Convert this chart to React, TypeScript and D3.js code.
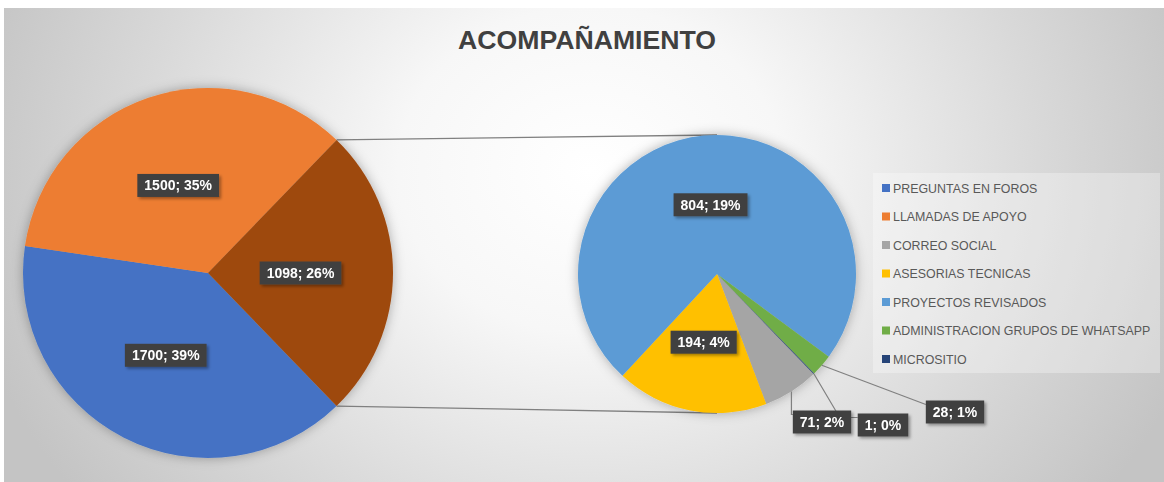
import React, { useEffect, useRef } from "react";
import * as d3 from "d3";

// ---- data ----
const chartTitle = "ACOMPAÑAMIENTO";
const mainCategories = ["PREGUNTAS EN FOROS", "LLAMADAS DE APOYO"];
const mainValues = [1700, 1500];
const mainPercents = [39, 35];
const otherPercent = 26;
const secondCategories = [
  "CORREO SOCIAL",
  "ASESORIAS TECNICAS",
  "PROYECTOS REVISADOS",
  "ADMINISTRACION GRUPOS DE WHATSAPP",
  "MICROSITIO",
];
const secondValues = [71, 194, 804, 28, 1];
const secondPercents = [2, 4, 19, 1, 0];
const legendCategories = [
  "PREGUNTAS EN FOROS",
  "LLAMADAS DE APOYO",
  "CORREO SOCIAL",
  "ASESORIAS TECNICAS",
  "PROYECTOS REVISADOS",
  "ADMINISTRACION GRUPOS DE WHATSAPP",
  "MICROSITIO",
];
const categoryColors = [
  "#4472C4",
  "#ED7D31",
  "#A5A5A5",
  "#FFC000",
  "#5B9BD5",
  "#70AD47",
  "#264478",
];
const otherColor = "#9E480E";

// ---- layout ----
const W = 1164;
const H = 482;
const MAIN = { cx: 208, cy: 273, r: 185 };
const SECOND = { cx: 717, cy: 274, r: 139 };
// outside label box centres (slices too small for inside labels)
const outsideLabels: Record<string, { x: number; y: number; elbow: number }> = {
  "CORREO SOCIAL": { x: 822, y: 422, elbow: 0 },
  MICROSITIO: { x: 883, y: 425, elbow: 18 },
  "ADMINISTRACION GRUPOS DE WHATSAPP": { x: 955, y: 412, elbow: 0 },
};

const colorOf = (c: string) => categoryColors[legendCategories.indexOf(c)];
const deg = (d: number) => (d * Math.PI) / 180;

export default function App() {
  const ref = useRef<SVGSVGElement | null>(null);

  useEffect(() => {
    const svg = d3.select(ref.current);
    svg.selectAll("*").remove();

    const defs = svg.append("defs");
    const grad = defs
      .append("radialGradient")
      .attr("id", "bg")
      .attr("gradientUnits", "userSpaceOnUse")
      .attr("cx", 590)
      .attr("cy", 170)
      .attr("r", 640)
      .attr("gradientTransform", "translate(590,170) scale(1,0.85) translate(-590,-170)");
    grad.append("stop").attr("offset", 0).attr("stop-color", "#ffffff");
    grad.append("stop").attr("offset", 0.3).attr("stop-color", "#f7f7f7");
    grad.append("stop").attr("offset", 0.7).attr("stop-color", "#d9d9d9");
    grad.append("stop").attr("offset", 1).attr("stop-color", "#c4c4c4");

    const pieShadow = defs.append("filter").attr("id", "pieShadow").attr("x", "-20%").attr("y", "-20%").attr("width", "140%").attr("height", "140%");
    pieShadow
      .append("feDropShadow")
      .attr("dx", 0)
      .attr("dy", 0)
      .attr("stdDeviation", 6)
      .attr("flood-color", "#000")
      .attr("flood-opacity", 0.3);
    const lblShadow = defs.append("filter").attr("id", "lblShadow").attr("x", "-20%").attr("y", "-30%").attr("width", "150%").attr("height", "170%");
    lblShadow
      .append("feDropShadow")
      .attr("dx", 2)
      .attr("dy", 2)
      .attr("stdDeviation", 1.5)
      .attr("flood-color", "#000")
      .attr("flood-opacity", 0.35);

    // background
    svg.append("rect").attr("width", W).attr("height", H).attr("fill", "#ffffff");
    svg
      .append("rect")
      .attr("x", 4)
      .attr("y", 8)
      .attr("width", W - 4)
      .attr("height", H - 8)
      .attr("fill", "url(#bg)");

    // title
    svg
      .append("text")
      .attr("x", 587)
      .attr("y", 49)
      .attr("text-anchor", "middle")
      .attr("font-family", "'Liberation Sans', Arial, sans-serif")
      .attr("font-weight", "bold")
      .attr("font-size", 26)
      .attr("textLength", 258)
      .attr("lengthAdjust", "spacingAndGlyphs")
      .attr("fill", "#404040")
      .text(chartTitle);

    // ---- main pie ----
    const otherValue = d3.sum(secondValues);
    const mainData = [
      ...mainCategories.map((c, i) => ({ cat: c, value: mainValues[i], pct: mainPercents[i], color: colorOf(c) })),
      { cat: "OTHER", value: otherValue, pct: otherPercent, color: otherColor },
    ];
    const total = d3.sum(mainData, (d) => d.value);
    const otherAngle = (otherValue / total) * 2 * Math.PI;
    const mainStart = Math.PI / 2 + otherAngle / 2;
    const mainPie = d3
      .pie<any>()
      .sort(null)
      .value((d) => d.value)
      .startAngle(mainStart)
      .endAngle(mainStart + 2 * Math.PI);
    const mainArcs = mainPie(mainData);
    const mainArc = d3.arc<any>().innerRadius(0).outerRadius(MAIN.r);
    const labelArcMain = d3.arc<any>().innerRadius(MAIN.r * 0.5).outerRadius(MAIN.r * 0.5);

    // ---- second pie ----
    const secondData = secondCategories.map((c, i) => ({
      cat: c,
      value: secondValues[i],
      pct: secondPercents[i],
      color: colorOf(c),
    }));
    const secondStart = mainStart;
    const secondPie = d3
      .pie<any>()
      .sort(null)
      .value((d) => d.value)
      .startAngle(secondStart)
      .endAngle(secondStart + 2 * Math.PI);
    const secondArcs = secondPie(secondData);
    const secondArc = d3.arc<any>().innerRadius(0).outerRadius(SECOND.r);
    const labelArcSecond = d3.arc<any>().innerRadius(SECOND.r * 0.5).outerRadius(SECOND.r * 0.5);

    // connector lines
    const otherArc = mainArcs[mainArcs.length - 1];
    const pt = (cx: number, cy: number, r: number, a: number) => [cx + r * Math.sin(a), cy - r * Math.cos(a)];
    const topMain = pt(MAIN.cx, MAIN.cy, MAIN.r, otherArc.startAngle);
    const botMain = pt(MAIN.cx, MAIN.cy, MAIN.r, otherArc.endAngle);
    const conn = svg.append("g").attr("stroke", "#808080").attr("stroke-width", 1.3).attr("fill", "none");
    conn.append("line").attr("x1", topMain[0]).attr("y1", topMain[1]).attr("x2", SECOND.cx).attr("y2", SECOND.cy - SECOND.r);
    conn.append("line").attr("x1", botMain[0]).attr("y1", botMain[1]).attr("x2", SECOND.cx).attr("y2", SECOND.cy + SECOND.r);

    const gMain = svg.append("g").attr("transform", `translate(${MAIN.cx},${MAIN.cy})`).attr("filter", "url(#pieShadow)");
    gMain
      .selectAll("path")
      .data(mainArcs)
      .join("path")
      .attr("d", mainArc)
      .attr("fill", (d: any) => d.data.color);

    const gSecond = svg.append("g").attr("transform", `translate(${SECOND.cx},${SECOND.cy})`).attr("filter", "url(#pieShadow)");
    gSecond
      .selectAll("path")
      .data(secondArcs)
      .join("path")
      .attr("d", secondArc)
      .attr("fill", (d: any) => d.data.color);

    // leader lines for outside labels
    const leaders = svg.append("g").attr("stroke", "#808080").attr("stroke-width", 1.2).attr("fill", "none");

    const labelsLayer = svg.append("g");
    const drawLabel = (x: number, y: number, txt: string) => {
      const g = labelsLayer.append("g").attr("filter", "url(#lblShadow)");
      const rect = g.append("rect").attr("fill", "#404040");
      const t = g
        .append("text")
        .attr("x", x)
        .attr("y", y + 5)
        .attr("text-anchor", "middle")
        .attr("font-family", "'Liberation Sans', Arial, sans-serif")
        .attr("font-weight", "bold")
        .attr("font-size", 14)
        .attr("fill", "#ffffff")
        .text(txt);
      const w = (t.node() as SVGTextElement).getComputedTextLength() + 14;
      const h = 23;
      rect.attr("x", x - w / 2).attr("y", y - h / 2).attr("width", w).attr("height", h);
      return { left: x - w / 2, top: y - h / 2, w, h };
    };

    mainArcs.forEach((a: any) => {
      const [x, y] = labelArcMain.centroid(a);
      drawLabel(MAIN.cx + x, MAIN.cy + y, `${a.data.value}; ${a.data.pct}%`);
    });

    secondArcs.forEach((a: any) => {
      const txt = `${a.data.value}; ${a.data.pct}%`;
      const out = outsideLabels[a.data.cat];
      if (!out) {
        const [x, y] = labelArcSecond.centroid(a);
        drawLabel(SECOND.cx + x, SECOND.cy + y, txt);
      }
    });
    // outside labels: draw in order micro, admin, correo so correo box overlaps micro leader
    ["MICROSITIO", "ADMINISTRACION GRUPOS DE WHATSAPP", "CORREO SOCIAL"].forEach((cat) => {
      const a: any = secondArcs.find((s: any) => s.data.cat === cat);
      const out = outsideLabels[cat];
      const mid = (a.startAngle + a.endAngle) / 2;
      const e = pt(SECOND.cx, SECOND.cy, SECOND.r, mid);
      const box = drawLabel(out.x, out.y, `${a.data.value}; ${a.data.pct}%`);
      const ly = box.top + 4;
      let pts: number[][];
      if (cat === "CORREO SOCIAL") pts = [e, [e[0], ly], [box.left, ly]];
      else if (out.elbow > 0) pts = [e, [box.left - out.elbow, ly], [box.left, ly]];
      else pts = [e, [box.left, ly]];
      leaders.append("polyline").attr("points", pts.map((p) => p.join(",")).join(" "));
    });

    // legend
    const lg = svg.append("g");
    lg.append("rect").attr("x", 873).attr("y", 173).attr("width", 287).attr("height", 200).attr("fill", "#ffffff").attr("opacity", 0.3);
    const ly0 = 188;
    const lstep = 28.5;
    legendCategories.forEach((c, i) => {
      const y = ly0 + i * lstep;
      lg.append("rect").attr("x", 882).attr("y", y - 4).attr("width", 8).attr("height", 8).attr("fill", categoryColors[i]);
      lg.append("text")
        .attr("x", 893)
        .attr("y", y + 4.5)
        .attr("font-family", "'Liberation Sans', Arial, sans-serif")
        .attr("font-size", 12.4)
        .attr("fill", "#595959")
        .text(c);
    });
  }, []);

  return <svg ref={ref} width={W} height={H} style={{ display: "block", position: "absolute", left: 0, top: 0 }} />;
}
